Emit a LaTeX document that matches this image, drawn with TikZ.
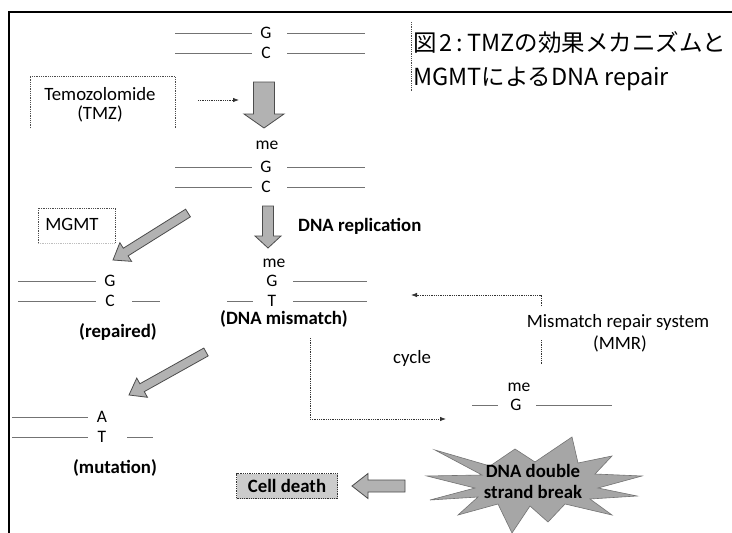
\documentclass[tikz,border=0pt]{standalone}
\usepackage{fontspec}
\setmainfont{Carlito}
\newfontfamily\jpfont{Noto Sans CJK JP}
\usetikzlibrary{calc,arrows.meta}
\tikzset{
  lbl/.style={font=\fontsize{18.8}{21}\selectfont, inner sep=0pt},
  blbl/.style={font=\fontsize{18.8}{21}\selectfont\bfseries, inner sep=0pt},
  base/.style={font=\fontsize{17.5}{19}\selectfont, inner sep=0pt},
  title/.style={font=\fontsize{23.5}{27}\selectfont\jpfont, inner sep=0pt, anchor=west},
  strand/.style={draw=black!55, line width=0.8pt},
  conn/.style={draw=black!80, line width=0.8pt, densely dotted},
  tip/.style={-{Latex[length=6pt,width=4.5pt]}},
  dotbox/.style={draw=black!70, line width=0.8pt, densely dotted},
  blockarrow/.style={fill=black!30, draw=black!70, line width=0.8pt, line join=miter},
  starfill/.style={fill=black!35, draw=black!55, line width=0.6pt},
  deathbox/.style={fill=black!20, draw=black!80, line width=0.8pt, densely dotted,
    font=\fontsize{18.8}{21}\selectfont\bfseries, minimum width=101pt, minimum height=25pt, inner sep=0pt},
}
\newcommand{\grayarrow}[5]{%
  \coordinate (gah) at ($(#2)!#5!(#1)$);
  \path[blockarrow] ($(#1)!#3!90:(#2)$) -- ($(gah)!#3!90:(#2)$) -- ($(gah)!#4!90:(#2)$)
    -- (#2) -- ($(gah)!#4!-90:(#2)$) -- ($(gah)!#3!-90:(#2)$) -- ($(#1)!#3!-90:(#2)$) -- cycle;
}
\begin{document}
\begin{tikzpicture}[x=1pt,y=1pt]
\useasboundingbox (0,0) rectangle (732,-533);
\fill[white] (0,0) rectangle (732,-533);
% frame
\draw[line width=2.2pt, line join=miter] (9,-533) -- (9,-12) -- (732,-12);

% title
\node[title] (title1) at (413,-43) {図\hspace{3pt}2\hspace{4pt}:\hspace{4pt}TMZの効果メカニズムと};
\node[title] (title2) at (413,-79) {MGMTによるDNA repair};
\draw[dotbox] (411,-22) -- (411,-92);

% top DNA
\node[base] (g1) at (266,-33) {G};
\node[base] (c1) at (266,-53) {C};
\draw[strand] (175,-33) -- (252,-33);
\draw[strand] (287,-33) -- (365,-33);
\draw[strand] (175,-53) -- (252,-53);
\draw[strand] (287,-53) -- (365,-53);

% Temozolomide
\draw[dotbox] (30,-128) -- (30,-76) -- (175,-76) -- (175,-128);
\node[lbl] (tmz1) at (100,-94) {Temozolomide};
\node[lbl] (tmz2) at (100,-114) {(TMZ)};
\coordinate (tmzS) at (198,-100);
\coordinate (tmzE) at (239,-100);
\draw[conn, tip] (tmzS) -- (tmzE);

% big arrow 1
\coordinate (a1s) at (264,-82);
\coordinate (a1e) at (264,-128);
\grayarrow{a1s}{a1e}{10.5pt}{20pt}{14pt}

% methylated
\node[base] (me1) at (267,-145) {me};
\node[base] (g2) at (266,-167) {G};
\node[base] (c2) at (266,-187) {C};
\draw[strand] (175,-167) -- (252,-167);
\draw[strand] (287,-167) -- (365,-167);
\draw[strand] (175,-187) -- (252,-187);
\draw[strand] (287,-187) -- (365,-187);

% arrow 2
\coordinate (a2s) at (268,-206);
\coordinate (a2e) at (268,-248);
\grayarrow{a2s}{a2e}{5.5pt}{13pt}{12pt}
\node[blbl, anchor=west] (rep) at (298,-226) {DNA replication};

% mismatch
\node[base] (me2) at (274,-263) {me};
\node[base] (g3) at (272,-281) {G};
\node[base] (t3) at (272,-301) {T};
\draw[strand] (293,-281) -- (367,-281);
\draw[strand] (293,-301) -- (367,-301);
\draw[strand] (227,-301) -- (253,-301);
\node[blbl] (mism) at (284,-319) {(DNA mismatch)};

% MGMT
\draw[dotbox] (38,-243) -- (38,-208) -- (115,-208) -- (115,-243);
\draw[dotbox, draw=black!25] (38,-243) -- (115,-243);
\node[lbl] (mgmt) at (72,-224) {MGMT};
\coordinate (d1s) at (188,-213);
\coordinate (d1e) at (113,-260);
\grayarrow{d1s}{d1e}{4.5pt}{11pt}{15pt}

% repaired
\node[base] (g4) at (110,-281) {G};
\node[base] (c4) at (110,-301) {C};
\draw[strand] (18,-281) -- (96,-281);
\draw[strand] (18,-301) -- (96,-301);
\draw[strand] (132,-301) -- (160,-301);
\node[blbl] (repd) at (118,-332) {(repaired)};

% mutation
\coordinate (d2s) at (206,-352);
\coordinate (d2e) at (129,-395);
\grayarrow{d2s}{d2e}{4.5pt}{11pt}{15pt}
\node[base] (a5) at (102,-417) {A};
\node[base] (t5) at (102,-437) {T};
\draw[strand] (12,-417) -- (88,-417);
\draw[strand] (12,-437) -- (88,-437);
\draw[strand] (127,-437) -- (153,-437);
\node[blbl] (mut) at (115,-468) {(mutation)};

% cycle loop
\coordinate (loopS) at (310,-338);
\coordinate (loopE) at (446,-419);
\draw[conn, tip] (loopS) |- (loopE);
\node[lbl] (cyc) at (412,-358) {cycle};

% right methylated G
\node[base] (me6) at (519,-387) {me};
\node[base] (g6) at (516,-405) {G};
\draw[strand] (472,-405) -- (498,-405);
\draw[strand] (536,-405) -- (612,-405);

% MMR
\node[lbl] (mmr1) at (618,-322) {Mismatch repair system};
\node[lbl] (mmr2) at (620,-344) {(MMR)};
\coordinate (mmrTop) at (541,-306);
\coordinate (mmrRet) at (411,-295);
\draw[conn, tip] (mmrTop) |- (mmrRet);
\coordinate (mmrLo1) at (541,-340);
\coordinate (mmrLo2) at (541,-364);
\draw[conn] (mmrLo1) -- (mmrLo2);

% star
\path[starfill] (435,-450) -- (490,-466) -- (515,-449) -- (535,-462) -- (572,-437)
  -- (578,-463) -- (612,-456) -- (595,-474) -- (642,-476) -- (598,-488)
  -- (637,-496) -- (590,-499) -- (612,-515) -- (565,-504) -- (548,-522)
  -- (530,-506) -- (512,-533) -- (498,-504) -- (458,-515) -- (478,-497)
  -- (430,-500) -- (475,-488) -- (427,-476) -- (482,-475) -- cycle;
\node[blbl, align=center, font=\fontsize{18.8}{21}\selectfont\bfseries] (dsb) at (533,-481) {DNA double\\strand break};

% cell death
\node[deathbox] (death) at (287,-486) {Cell death};
\coordinate (laS) at (405,-486);
\coordinate (laE) at (352,-486);
\grayarrow{laS}{laE}{6pt}{12.5pt}{16pt}
\end{tikzpicture}
\end{document}
